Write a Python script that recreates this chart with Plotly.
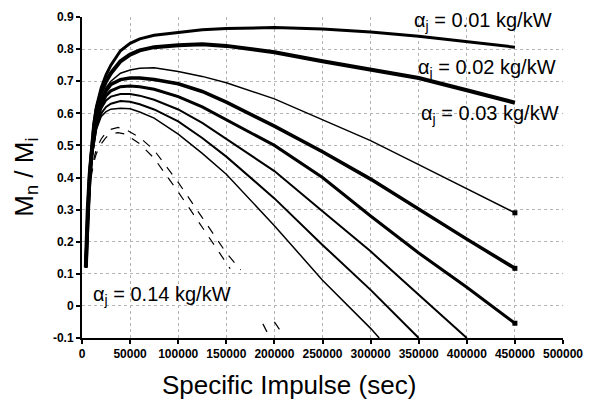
import plotly.graph_objects as go

# ---------------- data ----------------
X_MAIN = [4000, 5000, 6000, 8000, 10000, 12500, 15000, 20000, 25000, 30000, 40000,
          50000, 60000, 75000, 100000, 125000, 150000, 200000, 250000, 300000,
          350000, 400000, 450000]

Y_A001 = [0.12, 0.22, 0.30, 0.42, 0.50, 0.57, 0.62, 0.68, 0.72, 0.75, 0.795, 0.818,
          0.832, 0.843, 0.852, 0.86, 0.864, 0.867, 0.863, 0.853, 0.84, 0.824, 0.806]
Y_A002 = [0.12, 0.22, 0.30, 0.41, 0.49, 0.56, 0.61, 0.665, 0.70, 0.725, 0.762, 0.783,
          0.796, 0.806, 0.812, 0.815, 0.81, 0.79, 0.762, 0.737, 0.71, 0.672, 0.633]
Y_A003 = [0.12, 0.21, 0.29, 0.40, 0.48, 0.545, 0.59, 0.645, 0.68, 0.70, 0.725, 0.735,
          0.74, 0.742, 0.73, 0.715, 0.695, 0.645, 0.58, 0.515, 0.44, 0.366, 0.29]
Y_A004 = [0.12, 0.21, 0.29, 0.40, 0.475, 0.54, 0.585, 0.635, 0.67, 0.69, 0.705, 0.71,
          0.71, 0.705, 0.692, 0.668, 0.635, 0.56, 0.48, 0.395, 0.30, 0.208, 0.117]
Y_A005 = [0.12, 0.21, 0.28, 0.39, 0.47, 0.53, 0.575, 0.625, 0.655, 0.67, 0.683, 0.685,
          0.683, 0.675, 0.652, 0.62, 0.58, 0.50, 0.40, 0.28, 0.165, 0.058, -0.054]
Y_A006 = [0.12, 0.20, 0.28, 0.39, 0.465, 0.525, 0.57, 0.615, 0.64, 0.652, 0.66, 0.66,
          0.655, 0.642, 0.612, 0.57, 0.52, 0.42, 0.295, 0.17, 0.035, -0.1]
Y_A007 = [0.12, 0.20, 0.27, 0.38, 0.46, 0.515, 0.555, 0.60, 0.62, 0.63, 0.638, 0.636,
          0.628, 0.612, 0.575, 0.523, 0.465, 0.335, 0.19, 0.05, -0.1]
X_A008 = [4000, 5000, 6000, 8000, 10000, 12500, 15000, 20000, 25000, 30000, 40000,
          50000, 60000, 75000, 100000, 125000, 150000, 200000, 250000, 300000, 309000]
Y_A008 = [0.12, 0.20, 0.27, 0.38, 0.455, 0.51, 0.55, 0.59, 0.605, 0.613, 0.616, 0.614,
          0.604, 0.585, 0.535, 0.475, 0.41, 0.25, 0.08, -0.07, -0.1]

X_A013 = [4000, 5000, 6000, 8000, 10000, 12500, 15000, 20000, 25000, 30000, 37500,
          45000, 60000, 75000, 100000, 125000, 150000, 165000, None, 200000, 209000]
Y_A013 = [0.12, 0.20, 0.27, 0.37, 0.42, 0.46, 0.49, 0.52, 0.54, 0.55, 0.556, 0.55,
          0.525, 0.485, 0.385, 0.275, 0.165, 0.112, None, -0.05, -0.09]
X_A014 = [4000, 5000, 6000, 8000, 10000, 12500, 15000, 20000, 25000, 30000, 37500,
          45000, 60000, 75000, 100000, 125000, 154000, None, 188000, 195000]
Y_A014 = [0.12, 0.20, 0.26, 0.36, 0.41, 0.45, 0.475, 0.505, 0.525, 0.535, 0.54, 0.535,
          0.505, 0.46, 0.355, 0.245, 0.116, None, -0.056, -0.097]

X_TICKS = [0, 50000, 100000, 150000, 200000, 250000, 300000, 350000, 400000, 450000, 500000]
X_TICK_TEXT = ["0", "50000", "100000", "150000", "200000", "250000", "300000",
               "350000", "400000", "450000", "500000"]
Y_TICKS = [-0.1, 0, 0.1, 0.2, 0.3, 0.4, 0.5, 0.6, 0.7, 0.8, 0.9]
Y_TICK_TEXT = ["-0.1", "0", "0.1", "0.2", "0.3", "0.4", "0.5", "0.6", "0.7", "0.8", "0.9"]

LABELS = ["α<sub>j</sub> = 0.01 kg/kW", "α<sub>j</sub> = 0.02 kg/kW",
          "α<sub>j</sub> = 0.03 kg/kW", "α<sub>j</sub> = 0.14 kg/kW"]

# ---------------- figure ----------------
FONT = "Liberation Sans, Arial, sans-serif"
fig = go.Figure()

series = [
    (X_MAIN, Y_A001, 3.0, "solid"),
    (X_MAIN, Y_A002, 4.0, "solid"),
    (X_MAIN, Y_A003, 1.5, "solid"),
    (X_MAIN, Y_A004, 3.5, "solid"),
    (X_MAIN, Y_A005, 3.0, "solid"),
    (X_MAIN[:len(Y_A006)], Y_A006, 2.0, "solid"),
    (X_MAIN[:len(Y_A007)], Y_A007, 2.0, "solid"),
    (X_A008, Y_A008, 1.5, "solid"),
    (X_A013, Y_A013, 1.2, "dash"),
    (X_A014, Y_A014, 1.2, "dash"),
]
for xs, ys, w, d in series:
    fig.add_trace(go.Scatter(x=xs, y=ys, mode="lines",
                             line=dict(color="black", width=w, dash=d),
                             connectgaps=False, showlegend=False, hoverinfo="skip"))

# end markers on the three curves that stop at 450000
for ys in (Y_A003, Y_A004, Y_A005):
    fig.add_trace(go.Scatter(x=[X_MAIN[-1]], y=[ys[-1]], mode="markers",
                             marker=dict(symbol="square", size=5, color="black"),
                             showlegend=False, hoverinfo="skip"))

ann_pos = [(0.686, 0.985), (0.694, 0.841), (0.700, 0.695), (0.019, 0.131)]
for txt, (px, py) in zip(LABELS, ann_pos):
    fig.add_annotation(x=px, y=py, xref="paper", yref="paper", text=txt,
                       showarrow=False, xanchor="left", yanchor="middle",
                       font=dict(family=FONT, size=20, color="black"))

fig.add_annotation(x=0.431, y=-0.146, xref="paper", yref="paper",
                   text="Specific Impulse (sec)", showarrow=False,
                   xanchor="center", yanchor="middle",
                   font=dict(family=FONT, size=26, color="black"))
fig.add_annotation(x=-0.118, y=0.5, xref="paper", yref="paper",
                   text="M<sub>n</sub> / M<sub>i</sub>", showarrow=False, textangle=-90,
                   xanchor="center", yanchor="middle",
                   font=dict(family=FONT, size=26, color="black"))

axis_common = dict(showgrid=True, gridcolor="#b4b4b4", griddash="dot", gridwidth=1,
                   zeroline=False, showline=True, linecolor="black", linewidth=2,
                   ticks="outside", ticklen=4, tickcolor="black", tickwidth=1.5,
                   tickfont=dict(family=FONT, size=12, color="black", weight="bold"))

fig.update_xaxes(range=[0, 500000], tickvals=X_TICKS, ticktext=X_TICK_TEXT, **axis_common)
fig.update_yaxes(range=[-0.1, 0.9], tickvals=Y_TICKS, ticktext=Y_TICK_TEXT, **axis_common)

fig.update_layout(width=594, height=404, margin=dict(l=82, r=31, t=10, b=66),
                  plot_bgcolor="white", paper_bgcolor="white",
                  font=dict(family=FONT, color="black"))

fig.write_html("out.html")
